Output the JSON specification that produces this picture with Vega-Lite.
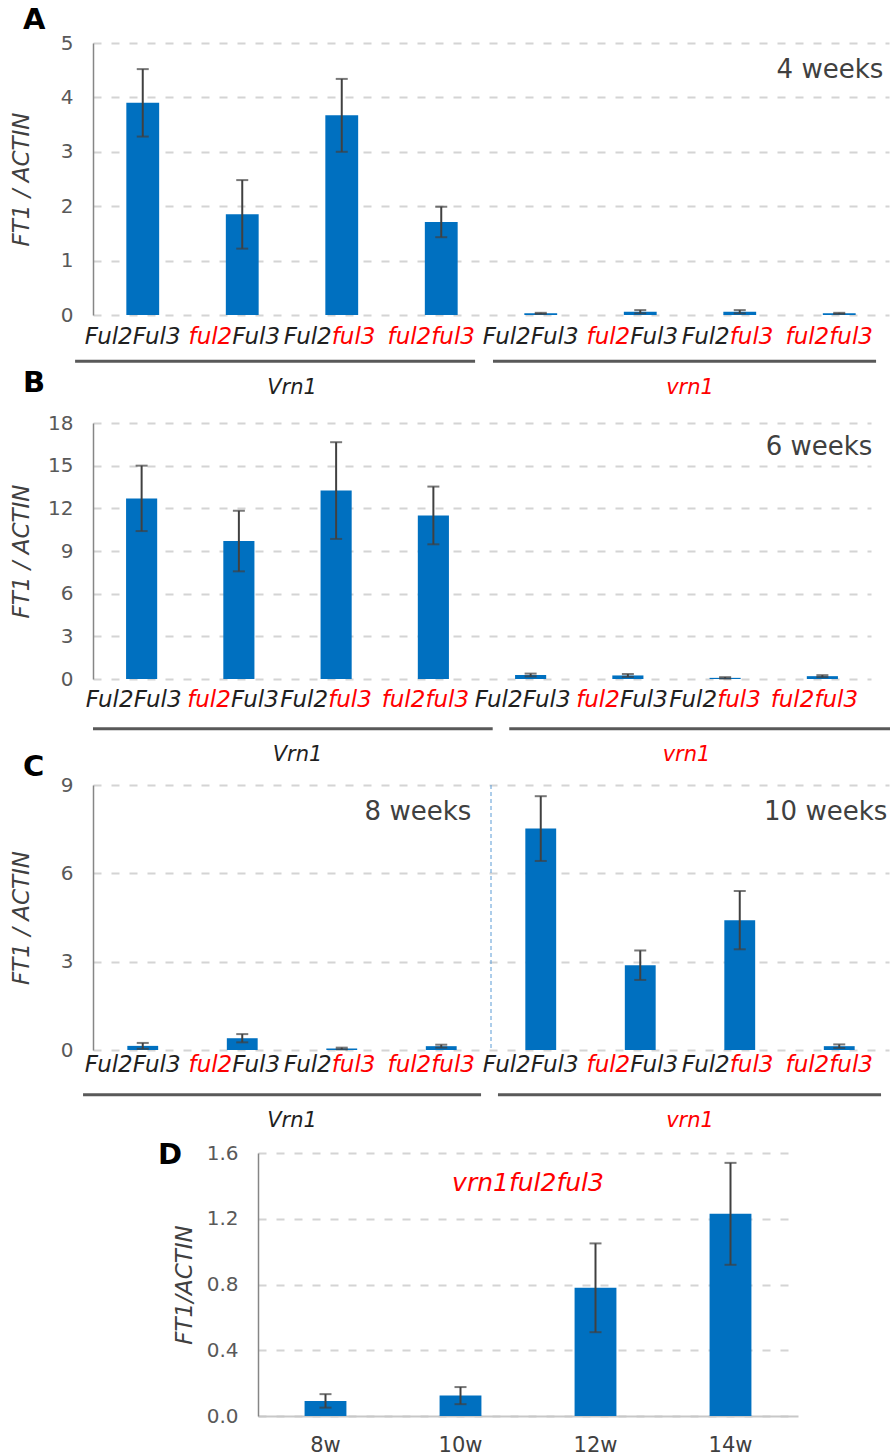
{
  "$schema": "https://vega.github.io/schema/vega-lite/v6.json",
  "padding": {"left": 9, "top": 6, "right": 0, "bottom": 0},
  "bounds": "flush",
  "spacing": 0,
  "config": {
    "view": {"stroke": null},
    "font": "DejaVu Sans",
    "axis": {
      "domainColor": "#868686",
      "domainWidth": 1.5,
      "ticks": false,
      "labelColor": "#595959",
      "labelFontSize": 20,
      "labelPadding": 20,
      "titleFontStyle": "italic",
      "titleFontWeight": "normal",
      "titleFontSize": 23,
      "titleColor": "#404040",
      "gridColor": "#d4d4d4",
      "gridDash": [8, 10],
      "gridWidth": 2
    },
    "title": {"fontSize": 29, "fontWeight": "bold", "color": "#000000", "anchor": "start", "frame": "group"}
  },
  "datasets": {
    "A": [
      {"geno": "Vrn1 Ful2Ful3", "vrn": "Vrn1", "ful2": "Ful2", "ful3": "Ful3", "g2": "wild", "g3": "wild", "mean": 3.9, "err": 0.62},
      {"geno": "Vrn1 ful2Ful3", "vrn": "Vrn1", "ful2": "ful2", "ful3": "Ful3", "g2": "mutant", "g3": "wild", "mean": 1.85, "err": 0.63},
      {"geno": "Vrn1 Ful2ful3", "vrn": "Vrn1", "ful2": "Ful2", "ful3": "ful3", "g2": "wild", "g3": "mutant", "mean": 3.67, "err": 0.67},
      {"geno": "Vrn1 ful2ful3", "vrn": "Vrn1", "ful2": "ful2", "ful3": "ful3", "g2": "mutant", "g3": "mutant", "mean": 1.71, "err": 0.28},
      {"geno": "vrn1 Ful2Ful3", "vrn": "vrn1", "ful2": "Ful2", "ful3": "Ful3", "g2": "wild", "g3": "wild", "mean": 0.03, "err": 0.01},
      {"geno": "vrn1 ful2Ful3", "vrn": "vrn1", "ful2": "ful2", "ful3": "Ful3", "g2": "mutant", "g3": "wild", "mean": 0.06, "err": 0.03},
      {"geno": "vrn1 Ful2ful3", "vrn": "vrn1", "ful2": "Ful2", "ful3": "ful3", "g2": "wild", "g3": "mutant", "mean": 0.06, "err": 0.03},
      {"geno": "vrn1 ful2ful3", "vrn": "vrn1", "ful2": "ful2", "ful3": "ful3", "g2": "mutant", "g3": "mutant", "mean": 0.03, "err": 0.01}
    ],
    "B": [
      {"geno": "Vrn1 Ful2Ful3", "vrn": "Vrn1", "ful2": "Ful2", "ful3": "Ful3", "g2": "wild", "g3": "wild", "mean": 12.7, "err": 2.3},
      {"geno": "Vrn1 ful2Ful3", "vrn": "Vrn1", "ful2": "ful2", "ful3": "Ful3", "g2": "mutant", "g3": "wild", "mean": 9.7, "err": 2.13},
      {"geno": "Vrn1 Ful2ful3", "vrn": "Vrn1", "ful2": "Ful2", "ful3": "ful3", "g2": "wild", "g3": "mutant", "mean": 13.25, "err": 3.4},
      {"geno": "Vrn1 ful2ful3", "vrn": "Vrn1", "ful2": "ful2", "ful3": "ful3", "g2": "mutant", "g3": "mutant", "mean": 11.5, "err": 2.03},
      {"geno": "vrn1 Ful2Ful3", "vrn": "vrn1", "ful2": "Ful2", "ful3": "Ful3", "g2": "wild", "g3": "wild", "mean": 0.28, "err": 0.1},
      {"geno": "vrn1 ful2Ful3", "vrn": "vrn1", "ful2": "ful2", "ful3": "Ful3", "g2": "mutant", "g3": "wild", "mean": 0.25, "err": 0.1},
      {"geno": "vrn1 Ful2ful3", "vrn": "vrn1", "ful2": "Ful2", "ful3": "ful3", "g2": "wild", "g3": "mutant", "mean": 0.08, "err": 0.05},
      {"geno": "vrn1 ful2ful3", "vrn": "vrn1", "ful2": "ful2", "ful3": "ful3", "g2": "mutant", "g3": "mutant", "mean": 0.2, "err": 0.07}
    ],
    "C": [
      {"geno": "Vrn1 Ful2Ful3", "vrn": "Vrn1", "ful2": "Ful2", "ful3": "Ful3", "g2": "wild", "g3": "wild", "mean": 0.14, "err": 0.1},
      {"geno": "Vrn1 ful2Ful3", "vrn": "Vrn1", "ful2": "ful2", "ful3": "Ful3", "g2": "mutant", "g3": "wild", "mean": 0.4, "err": 0.14},
      {"geno": "Vrn1 Ful2ful3", "vrn": "Vrn1", "ful2": "Ful2", "ful3": "ful3", "g2": "wild", "g3": "mutant", "mean": 0.05, "err": 0.03},
      {"geno": "Vrn1 ful2ful3", "vrn": "Vrn1", "ful2": "ful2", "ful3": "ful3", "g2": "mutant", "g3": "mutant", "mean": 0.13, "err": 0.05},
      {"geno": "vrn1 Ful2Ful3", "vrn": "vrn1", "ful2": "Ful2", "ful3": "Ful3", "g2": "wild", "g3": "wild", "mean": 7.52, "err": 1.1},
      {"geno": "vrn1 ful2Ful3", "vrn": "vrn1", "ful2": "ful2", "ful3": "Ful3", "g2": "mutant", "g3": "wild", "mean": 2.88, "err": 0.5},
      {"geno": "vrn1 Ful2ful3", "vrn": "vrn1", "ful2": "Ful2", "ful3": "ful3", "g2": "wild", "g3": "mutant", "mean": 4.41, "err": 0.99},
      {"geno": "vrn1 ful2ful3", "vrn": "vrn1", "ful2": "ful2", "ful3": "ful3", "g2": "mutant", "g3": "mutant", "mean": 0.13, "err": 0.06}
    ],
    "D": [
      {"week": "8w", "mean": 0.092, "err": 0.041},
      {"week": "10w", "mean": 0.124, "err": 0.052},
      {"week": "12w", "mean": 0.78, "err": 0.27},
      {"week": "14w", "mean": 1.23, "err": 0.31}
    ],
    "groups": [
      {"vrn": "Vrn1", "state": "wild", "first": "Vrn1 Ful2Ful3", "mid": "Vrn1 ful2Ful3", "last": "Vrn1 ful2ful3"},
      {"vrn": "vrn1", "state": "mutant", "first": "vrn1 Ful2Ful3", "mid": "vrn1 ful2Ful3", "last": "vrn1 ful2ful3"}
    ]
  },
  "vconcat": [
    {
      "width": 796, "height": 272,
      "title": {"text": "A", "dx": -70, "offset": -2},
      "layer": [
        {"data": {"name": "A"}, "mark": {"type": "bar", "color": "#0070C0"},
         "encoding": {
           "x": {"field": "geno", "type": "nominal", "scale": {"domain": ["Vrn1 Ful2Ful3","Vrn1 ful2Ful3","Vrn1 Ful2ful3","Vrn1 ful2ful3","vrn1 Ful2Ful3","vrn1 ful2Ful3","vrn1 Ful2ful3","vrn1 ful2ful3"], "paddingInner": 0.67, "paddingOuter": 0.335}, "axis": null},
           "y": {"field": "mean", "type": "quantitative", "scale": {"domain": [0, 5]}, "axis": {"values": [0,1,2,3,4,5], "title": "FT1 / ACTIN", "grid": true, "titleX": -60, "titleBaseline": "bottom"}}}},
        {"data": {"name": "A"}, "mark": {"type": "errorbar", "ticks": true, "size": 12, "thickness": 2, "color": "#404040"},
         "encoding": {"x": {"field": "geno", "type": "nominal"}, "y": {"field": "mean", "type": "quantitative", "title": "FT1 / ACTIN"}, "yError": {"field": "err"}}},
        {"data": {"values": [{"geno": "vrn1 ful2ful3", "label": "4 weeks"}]}, "mark": {"type": "text", "align": "right", "baseline": "middle", "dx": 44, "fontSize": 26, "color": "#404040"},
         "encoding": {"x": {"field": "geno", "type": "nominal"}, "y": {"datum": 4.5}, "text": {"field": "label"}}}
      ]
    },
    {
      "width": 796, "height": 108,
      "layer": [
        {"data": {"name": "A"}, "mark": {"type": "text", "align": "right", "baseline": "middle", "fontSize": 23, "fontStyle": "italic", "dx": -10, "dy": 3},
         "encoding": {
           "x": {"field": "geno", "type": "nominal", "scale": {"domain": ["Vrn1 Ful2Ful3","Vrn1 ful2Ful3","Vrn1 Ful2ful3","Vrn1 ful2ful3","vrn1 Ful2Ful3","vrn1 ful2Ful3","vrn1 Ful2ful3","vrn1 ful2ful3"], "paddingInner": 0, "paddingOuter": 0}, "axis": null},
           "y": {"datum": "genotype", "type": "nominal", "scale": {"type": "point", "domain": ["genotype", "line", "group"], "padding": 1.204, "align": 0.356}, "axis": null},
           "text": {"field": "ful2"},
           "color": {"field": "g2", "type": "nominal", "scale": {"domain": ["wild", "mutant"], "range": ["#1f1f1f", "#ff0000"]}, "legend": null}}},
        {"data": {"name": "A"}, "mark": {"type": "text", "align": "left", "baseline": "middle", "fontSize": 23, "fontStyle": "italic", "dx": -10, "dy": 3},
         "encoding": {"x": {"field": "geno", "type": "nominal"}, "y": {"datum": "genotype", "type": "nominal"}, "text": {"field": "ful3"}, "color": {"field": "g3", "type": "nominal"}}},
        {"data": {"name": "groups"}, "transform": [{"filter": "datum.vrn === 'Vrn1'"}], "mark": {"type": "rule", "color": "#595959", "strokeWidth": 3},
         "encoding": {"x": {"field": "first", "type": "nominal", "bandPosition": -0.18}, "x2": {"field": "last", "bandPosition": 0.84}, "y": {"datum": "line", "type": "nominal"}}},
        {"data": {"name": "groups"}, "transform": [{"filter": "datum.vrn === 'vrn1'"}], "mark": {"type": "rule", "color": "#595959", "strokeWidth": 3},
         "encoding": {"x": {"field": "first", "type": "nominal", "bandPosition": 0.02}, "x2": {"field": "last", "bandPosition": 0.87}, "y": {"datum": "line", "type": "nominal"}}},
        {"data": {"name": "groups"}, "mark": {"type": "text", "align": "center", "baseline": "middle", "fontSize": 21, "fontStyle": "italic"},
         "encoding": {"x": {"field": "mid", "type": "nominal", "bandPosition": 1}, "y": {"datum": "group", "type": "nominal"}, "text": {"field": "vrn"}, "color": {"field": "state", "type": "nominal"}}}
      ]
    },
    {
      "width": 778, "height": 256,
      "title": {"text": "B", "dx": -70, "offset": 15},
      "layer": [
        {"data": {"name": "B"}, "mark": {"type": "bar", "color": "#0070C0"},
         "encoding": {
           "x": {"field": "geno", "type": "nominal", "scale": {"domain": ["Vrn1 Ful2Ful3","Vrn1 ful2Ful3","Vrn1 Ful2ful3","Vrn1 ful2ful3","vrn1 Ful2Ful3","vrn1 ful2Ful3","vrn1 Ful2ful3","vrn1 ful2ful3"], "paddingInner": 0.68, "paddingOuter": 0.34}, "axis": null},
           "y": {"field": "mean", "type": "quantitative", "scale": {"domain": [0, 18]}, "axis": {"values": [0,3,6,9,12,15,18], "title": "FT1 / ACTIN", "grid": true, "titleX": -60, "titleBaseline": "bottom"}}}},
        {"data": {"name": "B"}, "mark": {"type": "errorbar", "ticks": true, "size": 12, "thickness": 2, "color": "#404040"},
         "encoding": {"x": {"field": "geno", "type": "nominal"}, "y": {"field": "mean", "type": "quantitative", "title": "FT1 / ACTIN"}, "yError": {"field": "err"}}},
        {"data": {"values": [{"geno": "vrn1 ful2ful3", "label": "6 weeks"}]}, "mark": {"type": "text", "align": "right", "baseline": "middle", "dx": 50, "fontSize": 26, "color": "#404040"},
         "encoding": {"x": {"field": "geno", "type": "nominal"}, "y": {"datum": 16.3}, "text": {"field": "label"}}}
      ]
    },
    {
      "width": 778, "height": 106,
      "layer": [
        {"data": {"name": "B"}, "mark": {"type": "text", "align": "right", "baseline": "middle", "fontSize": 23, "fontStyle": "italic", "dx": -8, "dy": -2},
         "encoding": {
           "x": {"field": "geno", "type": "nominal", "scale": {"domain": ["Vrn1 Ful2Ful3","Vrn1 ful2Ful3","Vrn1 Ful2ful3","Vrn1 ful2ful3","vrn1 Ful2Ful3","vrn1 ful2Ful3","vrn1 Ful2ful3","vrn1 ful2ful3"], "paddingInner": 0, "paddingOuter": 0}, "axis": null},
           "y": {"datum": "genotype", "type": "nominal", "scale": {"type": "point", "domain": ["genotype", "line", "group"], "padding": 1.65, "align": 0.439}, "axis": null},
           "text": {"field": "ful2"},
           "color": {"field": "g2", "type": "nominal", "scale": {"domain": ["wild", "mutant"], "range": ["#1f1f1f", "#ff0000"]}, "legend": null}}},
        {"data": {"name": "B"}, "mark": {"type": "text", "align": "left", "baseline": "middle", "fontSize": 23, "fontStyle": "italic", "dx": -8, "dy": -2},
         "encoding": {"x": {"field": "geno", "type": "nominal"}, "y": {"datum": "genotype", "type": "nominal"}, "text": {"field": "ful3"}, "color": {"field": "g3", "type": "nominal"}}},
        {"data": {"name": "groups"}, "transform": [{"filter": "datum.vrn === 'Vrn1'"}], "mark": {"type": "rule", "color": "#595959", "strokeWidth": 3},
         "encoding": {"x": {"field": "first", "type": "nominal", "bandPosition": 0}, "x2": {"field": "last", "bandPosition": 1.11}, "y": {"datum": "line", "type": "nominal"}}},
        {"data": {"name": "groups"}, "transform": [{"filter": "datum.vrn === 'vrn1'"}], "mark": {"type": "rule", "color": "#595959", "strokeWidth": 3},
         "encoding": {"x": {"field": "first", "type": "nominal", "bandPosition": 0.28}, "x2": {"field": "last", "bandPosition": 1.21}, "y": {"datum": "line", "type": "nominal"}}},
        {"data": {"name": "groups"}, "mark": {"type": "text", "align": "center", "baseline": "middle", "fontSize": 21, "fontStyle": "italic", "dx": 10},
         "encoding": {"x": {"field": "mid", "type": "nominal", "bandPosition": 1}, "y": {"datum": "group", "type": "nominal"}, "text": {"field": "vrn"}, "color": {"field": "state", "type": "nominal"}}}
      ]
    },
    {
      "width": 796, "height": 265,
      "title": {"text": "C", "dx": -70, "offset": -7},
      "layer": [
        {"data": {"name": "C"}, "mark": {"type": "bar", "color": "#0070C0"},
         "encoding": {
           "x": {"field": "geno", "type": "nominal", "scale": {"domain": ["Vrn1 Ful2Ful3","Vrn1 ful2Ful3","Vrn1 Ful2ful3","Vrn1 ful2ful3","vrn1 Ful2Ful3","vrn1 ful2Ful3","vrn1 Ful2ful3","vrn1 ful2ful3"], "paddingInner": 0.69, "paddingOuter": 0.345}, "axis": null},
           "y": {"field": "mean", "type": "quantitative", "scale": {"domain": [0, 9]}, "axis": {"values": [0,3,6,9], "title": "FT1 / ACTIN", "grid": true, "titleX": -60, "titleBaseline": "bottom"}}}},
        {"data": {"values": [{"geno": "Vrn1 ful2ful3"}]}, "mark": {"type": "rule", "color": "#5b9bd5", "strokeWidth": 1, "strokeDash": [4, 3]},
         "encoding": {"x": {"field": "geno", "type": "nominal", "bandPosition": 2.113}}},
        {"data": {"name": "C"}, "mark": {"type": "errorbar", "ticks": true, "size": 12, "thickness": 2, "color": "#404040"},
         "encoding": {"x": {"field": "geno", "type": "nominal"}, "y": {"field": "mean", "type": "quantitative", "title": "FT1 / ACTIN"}, "yError": {"field": "err"}}},
        {"data": {"values": [{"geno": "Vrn1 ful2ful3", "label": "8 weeks"}]},
         "mark": {"type": "text", "align": "right", "baseline": "middle", "dx": 30, "fontSize": 26, "color": "#404040"},
         "encoding": {"x": {"field": "geno", "type": "nominal"}, "y": {"datum": 8.08}, "text": {"field": "label"}}},
        {"data": {"values": [{"geno": "vrn1 ful2ful3", "label": "10 weeks"}]},
         "mark": {"type": "text", "align": "right", "baseline": "middle", "dx": 48, "fontSize": 26, "color": "#404040"},
         "encoding": {"x": {"field": "geno", "type": "nominal"}, "y": {"datum": 8.08}, "text": {"field": "label"}}}
      ]
    },
    {
      "width": 796, "height": 103,
      "layer": [
        {"data": {"name": "C"}, "mark": {"type": "text", "align": "right", "baseline": "middle", "fontSize": 23, "fontStyle": "italic", "dx": -10, "dy": -4},
         "encoding": {
           "x": {"field": "geno", "type": "nominal", "scale": {"domain": ["Vrn1 Ful2Ful3","Vrn1 ful2Ful3","Vrn1 Ful2ful3","Vrn1 ful2ful3","vrn1 Ful2Ful3","vrn1 ful2Ful3","vrn1 Ful2ful3","vrn1 ful2ful3"], "paddingInner": 0, "paddingOuter": 0}, "axis": null},
           "y": {"datum": "genotype", "type": "nominal", "scale": {"type": "point", "domain": ["genotype", "line", "group"], "padding": 1.711, "align": 0.369}, "axis": null},
           "text": {"field": "ful2"},
           "color": {"field": "g2", "type": "nominal", "scale": {"domain": ["wild", "mutant"], "range": ["#1f1f1f", "#ff0000"]}, "legend": null}}},
        {"data": {"name": "C"}, "mark": {"type": "text", "align": "left", "baseline": "middle", "fontSize": 23, "fontStyle": "italic", "dx": -10, "dy": -4},
         "encoding": {"x": {"field": "geno", "type": "nominal"}, "y": {"datum": "genotype", "type": "nominal"}, "text": {"field": "ful3"}, "color": {"field": "g3", "type": "nominal"}}},
        {"data": {"name": "groups"}, "transform": [{"filter": "datum.vrn === 'Vrn1'"}], "mark": {"type": "rule", "color": "#595959", "strokeWidth": 3},
         "encoding": {"x": {"field": "first", "type": "nominal", "bandPosition": -0.1}, "x2": {"field": "last", "bandPosition": 0.9}, "y": {"datum": "line", "type": "nominal"}}},
        {"data": {"name": "groups"}, "transform": [{"filter": "datum.vrn === 'vrn1'"}], "mark": {"type": "rule", "color": "#595959", "strokeWidth": 3},
         "encoding": {"x": {"field": "first", "type": "nominal", "bandPosition": 0.07}, "x2": {"field": "last", "bandPosition": 0.92}, "y": {"datum": "line", "type": "nominal"}}},
        {"data": {"name": "groups"}, "mark": {"type": "text", "align": "center", "baseline": "middle", "fontSize": 21, "fontStyle": "italic"},
         "encoding": {"x": {"field": "mid", "type": "nominal", "bandPosition": 1}, "y": {"datum": "group", "type": "nominal"}, "text": {"field": "vrn"}, "color": {"field": "state", "type": "nominal"}}}
      ]
    },
    {
      "hconcat": [
        {"width": 165, "height": 263, "data": {"values": [{}]}, "mark": {"type": "text"}, "encoding": {}},
        {
          "width": 540, "height": 263,
          "title": {"text": "D", "dx": -100, "offset": -27},
          "layer": [
            {"data": {"name": "D"}, "mark": {"type": "bar", "color": "#0070C0"},
             "encoding": {
               "x": {"field": "week", "type": "nominal", "scale": {"domain": ["8w", "10w", "12w", "14w"], "paddingInner": 0.69, "paddingOuter": 0.345}, "axis": {"title": null, "labelAngle": 0, "labelColor": "#404040", "labelFontSize": 21, "labelPadding": 18, "domainColor": "#c8c8c8", "domainWidth": 2}},
               "y": {"field": "mean", "type": "quantitative", "scale": {"domain": [0, 1.6]}, "axis": {"values": [0, 0.4, 0.8, 1.2, 1.6], "format": ".1f", "title": "FT1/ACTIN", "grid": true, "titleX": -62, "titleBaseline": "bottom"}}}},
            {"data": {"name": "D"}, "mark": {"type": "errorbar", "ticks": true, "size": 12, "thickness": 2, "color": "#404040"},
             "encoding": {"x": {"field": "week", "type": "nominal"}, "y": {"field": "mean", "type": "quantitative", "title": "FT1/ACTIN"}, "yError": {"field": "err"}}},
            {"data": {"values": [{"label": "vrn1ful2ful3"}]}, "mark": {"type": "text", "align": "center", "baseline": "middle", "fontSize": 25, "fontStyle": "italic", "color": "#ff0000"},
             "encoding": {"y": {"datum": 1.42}, "text": {"field": "label"}}}
          ]
        }
      ],
      "spacing": 0,
      "bounds": "flush"
    }
  ]
}
